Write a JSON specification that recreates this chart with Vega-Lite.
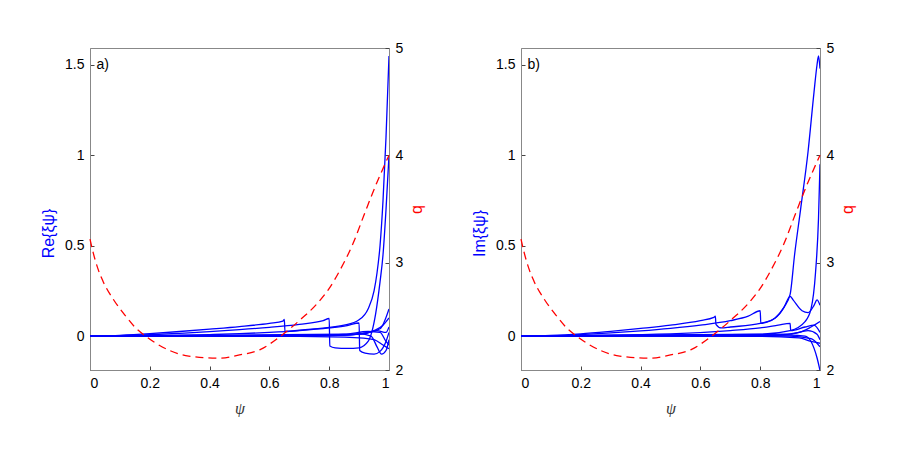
{
  "$schema": "https://vega.github.io/schema/vega-lite/v6.json",
  "padding": {"left": 40, "top": 40, "right": 0, "bottom": 0},
  "datasets": {
    "q": [
      {"psi": 0, "q": 3.22}, {"psi": 0.01, "q": 3.1}, {"psi": 0.027, "q": 2.94}, {"psi": 0.043, "q": 2.83},
      {"psi": 0.08, "q": 2.65}, {"psi": 0.12, "q": 2.5}, {"psi": 0.15, "q": 2.4}, {"psi": 0.184, "q": 2.32},
      {"psi": 0.22, "q": 2.25}, {"psi": 0.268, "q": 2.18}, {"psi": 0.33, "q": 2.13}, {"psi": 0.43, "q": 2.11},
      {"psi": 0.5, "q": 2.14}, {"psi": 0.569, "q": 2.19}, {"psi": 0.635, "q": 2.31}, {"psi": 0.7, "q": 2.46},
      {"psi": 0.76, "q": 2.62}, {"psi": 0.8, "q": 2.76}, {"psi": 0.836, "q": 2.93}, {"psi": 0.88, "q": 3.18},
      {"psi": 0.92, "q": 3.47}, {"psi": 0.96, "q": 3.75}, {"psi": 1.0, "q": 4.0}
    ],
    "re": [
      {"m": "a1", "psi": 0, "v": 0}, {"m": "a1", "psi": 0.05, "v": 0.001}, {"m": "a1", "psi": 0.1, "v": 0.004},
      {"m": "a1", "psi": 0.2, "v": 0.013}, {"m": "a1", "psi": 0.3, "v": 0.025}, {"m": "a1", "psi": 0.4, "v": 0.038},
      {"m": "a1", "psi": 0.5, "v": 0.052}, {"m": "a1", "psi": 0.6, "v": 0.07}, {"m": "a1", "psi": 0.645, "v": 0.082},
      {"m": "a1", "psi": 0.65, "v": 0.092}, {"m": "a1", "psi": 0.652, "v": 0.025}, {"m": "a1", "psi": 0.7, "v": 0.032},
      {"m": "a1", "psi": 0.75, "v": 0.04}, {"m": "a1", "psi": 0.85, "v": 0.06}, {"m": "a1", "psi": 0.9, "v": 0.09},
      {"m": "a1", "psi": 0.93, "v": 0.15}, {"m": "a1", "psi": 0.95, "v": 0.25}, {"m": "a1", "psi": 0.96, "v": 0.35},
      {"m": "a1", "psi": 0.97, "v": 0.5}, {"m": "a1", "psi": 0.98, "v": 0.75}, {"m": "a1", "psi": 0.99, "v": 1.1},
      {"m": "a1", "psi": 1.0, "v": 1.55},
      {"m": "a2", "psi": 0, "v": 0}, {"m": "a2", "psi": 0.1, "v": 0.002}, {"m": "a2", "psi": 0.2, "v": 0.007},
      {"m": "a2", "psi": 0.3, "v": 0.015}, {"m": "a2", "psi": 0.4, "v": 0.024}, {"m": "a2", "psi": 0.5, "v": 0.035},
      {"m": "a2", "psi": 0.6, "v": 0.048}, {"m": "a2", "psi": 0.7, "v": 0.065}, {"m": "a2", "psi": 0.78, "v": 0.085},
      {"m": "a2", "psi": 0.8, "v": 0.097}, {"m": "a2", "psi": 0.802, "v": -0.055}, {"m": "a2", "psi": 0.82, "v": -0.065},
      {"m": "a2", "psi": 0.86, "v": -0.068}, {"m": "a2", "psi": 0.9, "v": -0.065}, {"m": "a2", "psi": 0.93, "v": -0.03},
      {"m": "a2", "psi": 0.955, "v": 0.12}, {"m": "a2", "psi": 0.97, "v": 0.3}, {"m": "a2", "psi": 0.98, "v": 0.45},
      {"m": "a2", "psi": 0.99, "v": 0.7}, {"m": "a2", "psi": 1.0, "v": 1.0},
      {"m": "a3", "psi": 0, "v": 0}, {"m": "a3", "psi": 0.2, "v": 0.002}, {"m": "a3", "psi": 0.4, "v": 0.008},
      {"m": "a3", "psi": 0.5, "v": 0.013}, {"m": "a3", "psi": 0.6, "v": 0.02}, {"m": "a3", "psi": 0.7, "v": 0.03},
      {"m": "a3", "psi": 0.8, "v": 0.045}, {"m": "a3", "psi": 0.86, "v": 0.058}, {"m": "a3", "psi": 0.9, "v": 0.072},
      {"m": "a3", "psi": 0.902, "v": -0.08}, {"m": "a3", "psi": 0.92, "v": -0.095}, {"m": "a3", "psi": 0.95, "v": -0.1},
      {"m": "a3", "psi": 0.97, "v": -0.085}, {"m": "a3", "psi": 0.99, "v": -0.03}, {"m": "a3", "psi": 1.0, "v": 0.02},
      {"m": "a4", "psi": 0, "v": 0}, {"m": "a4", "psi": 0.5, "v": 0.002}, {"m": "a4", "psi": 0.8, "v": 0.006},
      {"m": "a4", "psi": 0.9, "v": 0.012}, {"m": "a4", "psi": 0.94, "v": 0.0}, {"m": "a4", "psi": 0.96, "v": -0.06},
      {"m": "a4", "psi": 0.975, "v": -0.1}, {"m": "a4", "psi": 0.99, "v": -0.08}, {"m": "a4", "psi": 1.0, "v": -0.02},
      {"m": "a5", "psi": 0, "v": 0}, {"m": "a5", "psi": 0.5, "v": 0.001}, {"m": "a5", "psi": 0.8, "v": 0.004},
      {"m": "a5", "psi": 0.9, "v": 0.01}, {"m": "a5", "psi": 0.95, "v": 0.03}, {"m": "a5", "psi": 0.98, "v": 0.06},
      {"m": "a5", "psi": 1.0, "v": 0.1},
      {"m": "a6", "psi": 0, "v": 0}, {"m": "a6", "psi": 0.6, "v": 0.0}, {"m": "a6", "psi": 0.85, "v": 0.005},
      {"m": "a6", "psi": 0.93, "v": 0.02}, {"m": "a6", "psi": 0.97, "v": 0.04}, {"m": "a6", "psi": 1.0, "v": 0.15},
      {"m": "a7", "psi": 0, "v": 0}, {"m": "a7", "psi": 0.7, "v": -0.002}, {"m": "a7", "psi": 0.9, "v": -0.01},
      {"m": "a7", "psi": 0.95, "v": -0.02}, {"m": "a7", "psi": 0.98, "v": -0.05}, {"m": "a7", "psi": 1.0, "v": -0.07},
      {"m": "a8", "psi": 0, "v": 0}, {"m": "a8", "psi": 0.8, "v": 0.002}, {"m": "a8", "psi": 0.92, "v": 0.015},
      {"m": "a8", "psi": 0.96, "v": 0.03}, {"m": "a8", "psi": 0.99, "v": 0.02}, {"m": "a8", "psi": 1.0, "v": 0.05},
      {"m": "a9", "psi": 0, "v": 0}, {"m": "a9", "psi": 0.85, "v": 0.01}, {"m": "a9", "psi": 0.93, "v": 0.025},
      {"m": "a9", "psi": 0.97, "v": 0.02}, {"m": "a9", "psi": 0.99, "v": -0.03}, {"m": "a9", "psi": 1.0, "v": -0.05}
    ],
    "im": [
      {"m": "b1", "psi": 0, "v": 0}, {"m": "b1", "psi": 0.1, "v": 0.003}, {"m": "b1", "psi": 0.2, "v": 0.012},
      {"m": "b1", "psi": 0.3, "v": 0.026}, {"m": "b1", "psi": 0.4, "v": 0.042}, {"m": "b1", "psi": 0.5, "v": 0.06},
      {"m": "b1", "psi": 0.6, "v": 0.085}, {"m": "b1", "psi": 0.645, "v": 0.103}, {"m": "b1", "psi": 0.65, "v": 0.11},
      {"m": "b1", "psi": 0.652, "v": 0.065}, {"m": "b1", "psi": 0.67, "v": 0.045}, {"m": "b1", "psi": 0.7, "v": 0.05},
      {"m": "b1", "psi": 0.8, "v": 0.07}, {"m": "b1", "psi": 0.85, "v": 0.1}, {"m": "b1", "psi": 0.88, "v": 0.16},
      {"m": "b1", "psi": 0.9, "v": 0.23}, {"m": "b1", "psi": 0.915, "v": 0.45}, {"m": "b1", "psi": 0.935, "v": 0.7},
      {"m": "b1", "psi": 0.96, "v": 1.02}, {"m": "b1", "psi": 0.98, "v": 1.35}, {"m": "b1", "psi": 0.99, "v": 1.5},
      {"m": "b1", "psi": 0.995, "v": 1.55}, {"m": "b1", "psi": 1.0, "v": 1.48},
      {"m": "b2", "psi": 0, "v": 0}, {"m": "b2", "psi": 0.1, "v": 0.002}, {"m": "b2", "psi": 0.2, "v": 0.008},
      {"m": "b2", "psi": 0.3, "v": 0.017}, {"m": "b2", "psi": 0.4, "v": 0.028}, {"m": "b2", "psi": 0.5, "v": 0.042},
      {"m": "b2", "psi": 0.6, "v": 0.06}, {"m": "b2", "psi": 0.7, "v": 0.085}, {"m": "b2", "psi": 0.76, "v": 0.11},
      {"m": "b2", "psi": 0.8, "v": 0.14}, {"m": "b2", "psi": 0.802, "v": 0.07}, {"m": "b2", "psi": 0.82, "v": 0.075},
      {"m": "b2", "psi": 0.85, "v": 0.1}, {"m": "b2", "psi": 0.88, "v": 0.16}, {"m": "b2", "psi": 0.9, "v": 0.22},
      {"m": "b2", "psi": 0.91, "v": 0.2}, {"m": "b2", "psi": 0.94, "v": 0.14}, {"m": "b2", "psi": 0.96, "v": 0.13},
      {"m": "b2", "psi": 0.98, "v": 0.17}, {"m": "b2", "psi": 0.99, "v": 0.2}, {"m": "b2", "psi": 1.0, "v": 0.17},
      {"m": "b3", "psi": 0, "v": 0}, {"m": "b3", "psi": 0.8, "v": 0.01}, {"m": "b3", "psi": 0.9, "v": 0.03},
      {"m": "b3", "psi": 0.95, "v": 0.08}, {"m": "b3", "psi": 0.97, "v": 0.15}, {"m": "b3", "psi": 0.985, "v": 0.35},
      {"m": "b3", "psi": 0.995, "v": 0.65}, {"m": "b3", "psi": 1.0, "v": 0.95},
      {"m": "b4", "psi": 0, "v": 0}, {"m": "b4", "psi": 0.5, "v": 0.012}, {"m": "b4", "psi": 0.7, "v": 0.03},
      {"m": "b4", "psi": 0.8, "v": 0.045}, {"m": "b4", "psi": 0.86, "v": 0.06}, {"m": "b4", "psi": 0.9, "v": 0.07},
      {"m": "b4", "psi": 0.902, "v": 0.03}, {"m": "b4", "psi": 0.95, "v": 0.05}, {"m": "b4", "psi": 0.98, "v": 0.06},
      {"m": "b4", "psi": 1.0, "v": 0.02},
      {"m": "b5", "psi": 0, "v": 0}, {"m": "b5", "psi": 0.8, "v": 0.003}, {"m": "b5", "psi": 0.9, "v": 0.005},
      {"m": "b5", "psi": 0.95, "v": 0.0}, {"m": "b5", "psi": 0.97, "v": -0.03}, {"m": "b5", "psi": 0.99, "v": -0.12},
      {"m": "b5", "psi": 1.0, "v": -0.19},
      {"m": "b6", "psi": 0, "v": 0}, {"m": "b6", "psi": 0.85, "v": 0.005}, {"m": "b6", "psi": 0.93, "v": 0.02},
      {"m": "b6", "psi": 0.97, "v": 0.05}, {"m": "b6", "psi": 1.0, "v": 0.08},
      {"m": "b7", "psi": 0, "v": 0}, {"m": "b7", "psi": 0.8, "v": -0.002}, {"m": "b7", "psi": 0.93, "v": -0.01},
      {"m": "b7", "psi": 0.97, "v": -0.03}, {"m": "b7", "psi": 1.0, "v": -0.04},
      {"m": "b8", "psi": 0, "v": 0}, {"m": "b8", "psi": 0.9, "v": 0.01}, {"m": "b8", "psi": 0.96, "v": 0.03},
      {"m": "b8", "psi": 0.99, "v": 0.01}, {"m": "b8", "psi": 1.0, "v": -0.02},
      {"m": "b9", "psi": 0, "v": 0}, {"m": "b9", "psi": 0.9, "v": 0.0}, {"m": "b9", "psi": 0.97, "v": -0.015},
      {"m": "b9", "psi": 1.0, "v": -0.06}
    ]
  },
  "spacing": 45,
  "hconcat": [
    {
      "width": 299, "height": 322,
      "layer": [
        {
          "layer": [
            {
              "data": {"name": "re"},
              "mark": {"type": "line", "color": "#0000ff", "strokeWidth": 1.3, "clip": true, "interpolate": "monotone"},
              "encoding": {
                "x": {"field": "psi", "type": "quantitative", "scale": {"domain": [0, 1], "nice": false},
                      "axis": {"title": "ψ", "values": [0, 0.2, 0.4, 0.6, 0.8, 1], "format": "~g"}},
                "y": {"field": "v", "type": "quantitative", "scale": {"domain": [-0.188, 1.594], "nice": false, "zero": false},
                      "axis": {"title": "Re{ξψ}", "titleColor": "#0000ff", "values": [0, 0.5, 1, 1.5], "format": "~g", "titleY": 185}},
                "detail": {"field": "m"}
              }
            },
            {
              "data": {"values": [{"label": "a)"}]},
              "mark": {"type": "text", "align": "left", "baseline": "middle", "fontSize": 14, "font": "Liberation Sans", "color": "#000000"},
              "encoding": {
                "x": {"datum": 0.022, "type": "quantitative"},
                "y": {"datum": 1.5, "type": "quantitative"},
                "text": {"field": "label"}
              }
            }
          ]
        },
        {
          "data": {"name": "q"},
          "mark": {"type": "line", "color": "#ff0000", "strokeWidth": 1.3, "strokeDash": [8, 5], "interpolate": "monotone"},
          "encoding": {
            "x": {"field": "psi", "type": "quantitative"},
            "y": {"field": "q", "type": "quantitative", "scale": {"domain": [2, 5], "nice": false, "zero": false},
                  "axis": {"orient": "right", "title": "q", "titleColor": "#ff0000", "values": [2, 3, 4, 5], "format": "~g", "titleAngle": 270, "titlePadding": 22}}
          }
        }
      ],
      "resolve": {"scale": {"y": "independent"}}
    },
    {
      "width": 299, "height": 322,
      "layer": [
        {
          "layer": [
            {
              "data": {"name": "im"},
              "mark": {"type": "line", "color": "#0000ff", "strokeWidth": 1.3, "clip": true, "interpolate": "monotone"},
              "encoding": {
                "x": {"field": "psi", "type": "quantitative", "scale": {"domain": [0, 1], "nice": false},
                      "axis": {"title": "ψ", "values": [0, 0.2, 0.4, 0.6, 0.8, 1], "format": "~g"}},
                "y": {"field": "v", "type": "quantitative", "scale": {"domain": [-0.188, 1.594], "nice": false, "zero": false},
                      "axis": {"title": "Im{ξψ}", "titleColor": "#0000ff", "values": [0, 0.5, 1, 1.5], "format": "~g", "titleY": 185}},
                "detail": {"field": "m"}
              }
            },
            {
              "data": {"values": [{"label": "b)"}]},
              "mark": {"type": "text", "align": "left", "baseline": "middle", "fontSize": 14, "font": "Liberation Sans", "color": "#000000"},
              "encoding": {
                "x": {"datum": 0.022, "type": "quantitative"},
                "y": {"datum": 1.5, "type": "quantitative"},
                "text": {"field": "label"}
              }
            }
          ]
        },
        {
          "data": {"name": "q"},
          "mark": {"type": "line", "color": "#ff0000", "strokeWidth": 1.3, "strokeDash": [8, 5], "interpolate": "monotone"},
          "encoding": {
            "x": {"field": "psi", "type": "quantitative"},
            "y": {"field": "q", "type": "quantitative", "scale": {"domain": [2, 5], "nice": false, "zero": false},
                  "axis": {"orient": "right", "title": "q", "titleColor": "#ff0000", "values": [2, 3, 4, 5], "format": "~g", "titleAngle": 270, "titlePadding": 22}}
          }
        }
      ],
      "resolve": {"scale": {"y": "independent"}}
    }
  ],
  "config": {
    "view": {"stroke": "#888888", "strokeWidth": 1},
    "axis": {
      "grid": false,
      "domainColor": "#888888",
      "tickColor": "#444444",
      "tickSize": -4,
      "labelPadding": 10,
      "labelFont": "Liberation Sans",
      "labelFontSize": 14,
      "labelColor": "#000000",
      "titleFont": "Liberation Sans",
      "titleFontSize": 16,
      "titleFontWeight": "normal",
      "titlePadding": 8
    },
    "axisX": {"titleFont": "Liberation Serif", "titleFontStyle": "italic", "titleColor": "#333333", "titlePadding": 10}
  }
}
